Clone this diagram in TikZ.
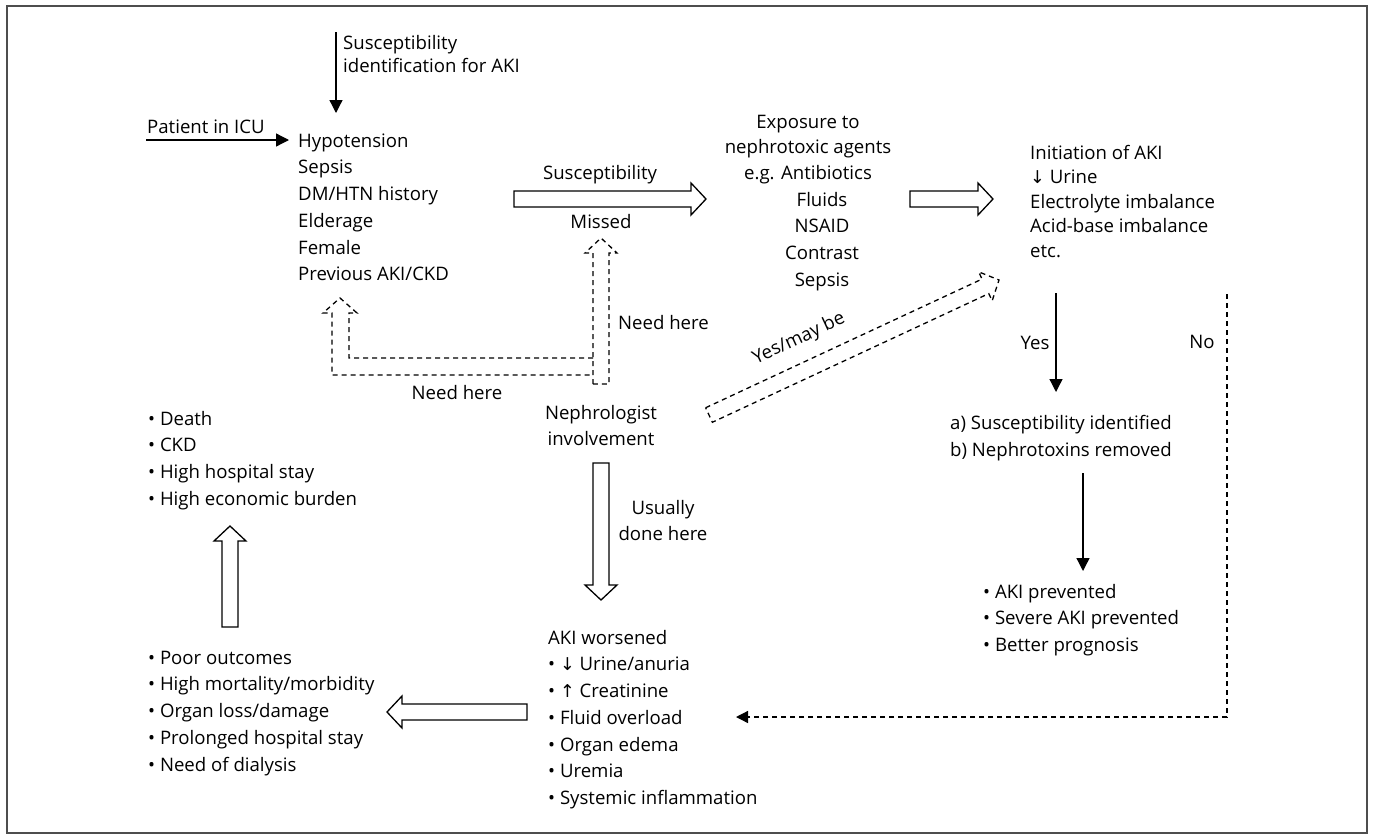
\documentclass[tikz,border=0pt]{standalone}
\usepackage{fontspec}
\setmainfont{Open Sans}
\newfontfamily\arrowfont[Scale=0.95]{DejaVu Sans}
\usetikzlibrary{calc,arrows.meta}
\definecolor{framegray}{HTML}{4D4D4D}
\newcommand\fst{\rule{0pt}{15pt}}
% hollow block arrow: #2 tail, #3 tip
\newcommand\harrow[3][]{%
  \coordinate (ha-s) at (#2);
  \coordinate (ha-t) at (#3);
  \coordinate (ha-b) at ($(ha-t)!15pt!(ha-s)$);
  \draw[hollow,#1] ($(ha-s)!8pt!90:(ha-t)$) -- ($(ha-b)!8pt!-90:(ha-s)$) -- ($(ha-b)!16pt!-90:(ha-s)$) -- (ha-t) -- ($(ha-b)!16pt!90:(ha-s)$) -- ($(ha-b)!8pt!90:(ha-s)$) -- ($(ha-s)!8pt!-90:(ha-t)$) -- cycle;
}
\begin{document}
\begin{tikzpicture}[x=1pt,y=-1pt,
  sp/.style={font=\fontsize{18.6}{#1}\selectfont},
  txt/.style={inner sep=0pt, sp=26.7, align=left, anchor=north west},
  lbl/.style={inner sep=0pt, sp=26.7, anchor=base},
  hollow/.style={draw=black, line width=1.3pt, fill=white, line join=miter},
  dsh/.style={line width=1.3pt, dash pattern=on 5pt off 4pt},
  arr/.style={line width=1.3pt, -{Triangle[width=13pt,length=13pt]}},
  darr/.style={dsh, -{Triangle[width=12pt,length=12pt]}}]
\useasboundingbox (0,0) rectangle (1373,839);
\draw[framegray, line width=2pt] (7,6) rectangle (1367,833);

% texts
\node[txt, sp=23.5] (susc) at (343,34) {\fst Susceptibility\\identification for AKI};
\node[txt] (icu) at (147,118) {\fst Patient in ICU};
\node[txt] (risk) at (298,132) {\fst Hypotension\\Sepsis\\DM/HTN history\\Elderage\\Female\\Previous AKI/CKD};
\node[lbl] (suscl) at (600,179) {Susceptibility};
\node[lbl] (missed) at (601,228) {Missed};
\node[txt, anchor=north, align=center, sp=25.5] (exph) at (808,113) {\fst Exposure to\\nephrotoxic agents\\e.g. Antibiotics};
\node[txt, anchor=north, align=center] (expl) at (822,191) {\fst Fluids\\NSAID\\Contrast\\Sepsis};
\node[txt, sp=24.5] (init) at (1030,144) {\fst Initiation of AKI\\{\arrowfont ↓} Urine\\Electrolyte imbalance\\Acid-base imbalance\\etc.};
\node[lbl] (yes) at (1035,349) {Yes};
\node[lbl] (no) at (1202,348) {No};
\node[txt, sp=27] (ab) at (950,414) {\fst a) Susceptibility identified\\b) Nephrotoxins removed};
\node[txt, sp=26.5] (prev) at (983,583) {\fst • AKI prevented\\• Severe AKI prevented\\• Better prognosis};
\node[txt, anchor=north, align=center, sp=26] (neph) at (601,404) {\fst Nephrologist\\involvement};
\node[txt, anchor=north, align=center, sp=26] (usual) at (663,499) {\fst Usually\\done here};
\node[txt] (worse) at (548,629) {\fst AKI worsened\\• {\arrowfont ↓} Urine/anuria\\• {\arrowfont ↑} Creatinine\\• Fluid overload\\• Organ edema\\• Uremia\\• Systemic inflammation};
\node[txt] (poor) at (148,649) {\fst • Poor outcomes\\• High mortality/morbidity\\• Organ loss/damage\\• Prolonged hospital stay\\• Need of dialysis};
\node[txt] (death) at (148,410) {\fst • Death\\• CKD\\• High hospital stay\\• High economic burden};
\node[lbl, anchor=base west] (need1) at (618,329) {Need here};
\node[lbl] (need2) at (457,399) {Need here};
\node[inner sep=0pt, sp=26.7, rotate=25] (yesmay) at (799,339) {Yes/may be};

% named end points
\coordinate (suscTop) at (336,32);
\coordinate (riskIn) at (336,113);
\coordinate (icuL) at (146,140);
\coordinate (riskL) at (289,140);
\coordinate (initBot) at (1056,293);
\coordinate (abTop) at (1056,392);
\coordinate (abBot) at (1083,473);
\coordinate (prevTop) at (1083,571);
\coordinate (noTop) at (1227,294);
\coordinate (noCorner) at (1227,717);
\coordinate (worseR) at (736,717);

% solid arrows
\draw[arr] (suscTop) -- (riskIn);
\draw[arr] (icuL) -- (riskL);
\draw[arr] (initBot) -- (abTop);
\draw[arr] (abBot) -- (prevTop);
\draw[darr] (noTop) -- (noCorner) -- (worseR);

% hollow arrows
\harrow{514,199}{706,199}
\harrow{910,199}{993,199}
\harrow{601,463}{601,600}
\harrow{527,712}{387,712}
\harrow{230,627}{230,526}

% dashed hollow arrows
\harrow[dsh]{601,384}{601,238}
\harrow[dsh]{709,415}{999,280}
\draw[dsh, line join=miter] (593,358) -- (349,358) -- (349,313) -- (357,313) -- (340,298) -- (323,313) -- (332,313) -- (332,375) -- (593,375);
\end{tikzpicture}
\end{document}
